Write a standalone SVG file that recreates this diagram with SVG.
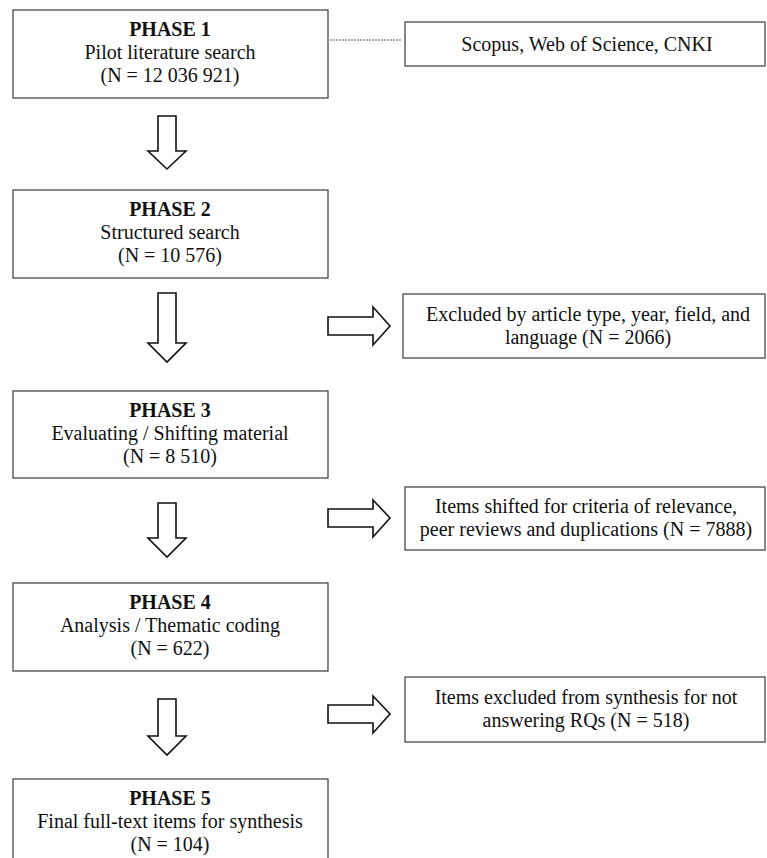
<svg xmlns="http://www.w3.org/2000/svg" width="767" height="858" viewBox="0 0 767 858">
<style>
.box{fill:#fff;stroke:#3a3a3a;stroke-width:1.2}
.t{font-family:"Liberation Serif","Times New Roman",serif;font-size:20px;fill:#111;text-anchor:middle}
.b{font-weight:bold}
.arr{fill:#fff;stroke:#111;stroke-width:1.6;stroke-linejoin:miter}
.dot{stroke:#555;stroke-width:1;stroke-dasharray:2 1}
</style>
<rect width="767" height="858" fill="#fff"/>
<g id="connectors">
<line class="dot" x1="330" y1="40" x2="401" y2="40"/>
<path class="arr" d="M158,116 H176 V151 H186 L167,169 L148,151 H158 Z"/>
<path class="arr" d="M158,293 H176 V343 H186 L167,362 L148,343 H158 Z"/>
<path class="arr" d="M158,503 H176 V538 H186 L167,557 L148,538 H158 Z"/>
<path class="arr" d="M158,699 H176 V736 H186 L167,755 L148,736 H158 Z"/>
<path class="arr" d="M328,317 H373 V307 L390,326 L373,345 V335 H328 Z"/>
<path class="arr" d="M328,509 H373 V500 L390,518 L373,537 V527 H328 Z"/>
<path class="arr" d="M328,705 H373 V696 L390,714 L373,733 V723 H328 Z"/>
</g>
<g id="phase1">
<rect class="box" x="13" y="10" width="315" height="88"/>
<text class="t b" x="170" y="36">PHASE 1</text>
<text class="t" x="170" y="59">Pilot literature search</text>
<text class="t" x="170" y="82">(N = 12 036 921)</text>
</g>
<g id="sources">
<rect class="box" x="405" y="22" width="360" height="44"/>
<text class="t" x="587" y="51">Scopus, Web of Science, CNKI</text>
</g>
<g id="phase2">
<rect class="box" x="13" y="190" width="315" height="88"/>
<text class="t b" x="170" y="216">PHASE 2</text>
<text class="t" x="170" y="239">Structured search</text>
<text class="t" x="170" y="262">(N = 10 576)</text>
</g>
<g id="excluded1">
<rect class="box" x="403" y="294" width="362" height="64"/>
<text class="t" x="588" y="321">Excluded by article type, year, field, and</text>
<text class="t" x="588" y="344">language (N = 2066)</text>
</g>
<g id="phase3">
<rect class="box" x="13" y="391" width="315" height="87"/>
<text class="t b" x="170" y="417">PHASE 3</text>
<text class="t" x="170" y="440">Evaluating / Shifting material</text>
<text class="t" x="170" y="463">(N = 8 510)</text>
</g>
<g id="excluded2">
<rect class="box" x="405" y="487" width="360" height="63"/>
<text class="t" x="586" y="513">Items shifted for criteria of relevance,</text>
<text class="t" x="586" y="536">peer reviews and duplications (N = 7888)</text>
</g>
<g id="phase4">
<rect class="box" x="13" y="583" width="315" height="88"/>
<text class="t b" x="170" y="609">PHASE 4</text>
<text class="t" x="170" y="632">Analysis / Thematic coding</text>
<text class="t" x="170" y="655">(N = 622)</text>
</g>
<g id="excluded3">
<rect class="box" x="405" y="677" width="360" height="65"/>
<text class="t" x="586" y="704">Items excluded from synthesis for not</text>
<text class="t" x="586" y="727">answering RQs (N = 518)</text>
</g>
<g id="phase5">
<rect class="box" x="13" y="779" width="315" height="93"/>
<text class="t b" x="170" y="805">PHASE 5</text>
<text class="t" x="170" y="828">Final full-text items for synthesis</text>
<text class="t" x="170" y="851">(N = 104)</text>
</g>
</svg>
